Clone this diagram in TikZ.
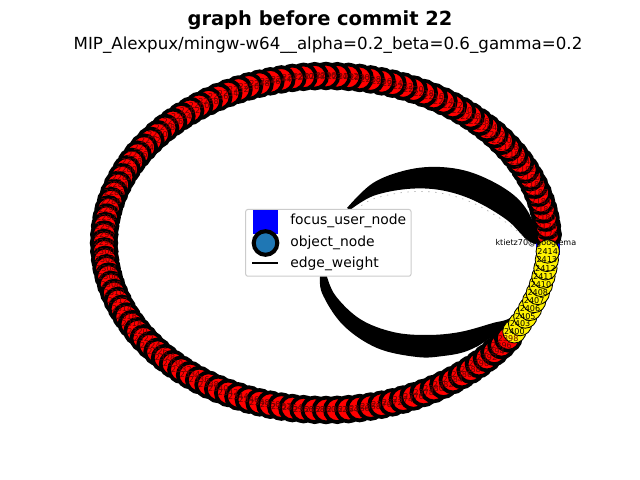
\documentclass[tikz,border=0pt]{standalone}
\usepackage{fontspec}
\setmainfont{DejaVu Sans}
\definecolor{mplblue}{HTML}{1F77B4}
\definecolor{legframe}{HTML}{CCCCCC}
\tikzset{
  x=0.72bp,y=-0.72bp,
  rednode/.style={circle,draw=black,fill=red,line width=2.7bp,minimum size=17.8bp,inner sep=0pt},
  yellownode/.style={circle,draw=black,fill=yellow,line width=0.6bp,minimum size=16.8bp,inner sep=0pt},
  focusnode/.style={rectangle,fill=blue,minimum size=17.3bp,inner sep=0pt},
  legendcircle/.style={circle,draw=black,fill=mplblue,line width=2.9bp,minimum size=17bp,inner sep=0pt},
  ringlabel/.style={font=\fontsize{5.8bp}{7bp}\selectfont,inner sep=0pt,text=black},
  redlabel/.style={font=\fontsize{5.8bp}{7bp}\selectfont,inner sep=0pt,text=black!60!red},
  legendtext/.style={font=\fontsize{10bp}{12bp}\selectfont,anchor=base west,inner sep=0pt},
  edgeband/.style={fill=black,draw=none},
}
\begin{document}
\begin{tikzpicture}
\useasboundingbox (0,0) rectangle (640,480);
\fill[white] (0,0) rectangle (640,480);
\node[font=\fontsize{14bp}{16bp}\selectfont\bfseries,anchor=base,inner sep=0pt] (title) at (320,26) {graph before commit 22};
\node[font=\fontsize{12bp}{14bp}\selectfont,anchor=base,inner sep=0pt] (subtitle) at (328,50) {MIP\_Alexpux/mingw-w64\_\_alpha=0.2\_beta=0.6\_gamma=0.2};
% edge bundles from the focus node
\path[edgeband] plot[smooth,tension=0.6] coordinates {(347,208) (373,183) (407,170) (440,167) (473,173) (507,190) (527,210) (540,240)}
  -- plot[smooth,tension=0.6] coordinates {(540,245) (527,240) (507,220) (473,200) (440,190) (407,189) (373,196) (350,210)} -- cycle;
\path[edgeband] plot[smooth,tension=0.6] coordinates {(320.5,273) (322,293) (343,325) (377,348) (417,357) (443,356) (467,351) (490,338) (530,305)}
  -- plot[smooth,tension=0.6] coordinates {(535,300) (510,318) (493,323) (460,332) (427,335) (393,332) (360,319) (335,295) (326,273)} -- cycle;
\draw[gray!60,line width=0.5bp,dash pattern=on 1bp off 4bp] plot[smooth,tension=0.6] coordinates {(356,210) (373,199) (407,192) (440,193) (473,203) (507,223) (527,240)};
% ring of object nodes
\def\ringN{124}
\node[focusnode] (focus) at (548,243) {};
\foreach \i in {1,...,112}{
  \pgfmathsetmacro{\ang}{360/\ringN*\i}
  \pgfmathsetmacro{\nx}{326+222*cos(\ang)}
  \pgfmathsetmacro{\ny}{243-167*sin(\ang)}
  \node[rednode] (r\i) at (\nx,\ny) {};
}
\foreach \i in {113,...,123}{
  \pgfmathsetmacro{\ang}{360/\ringN*\i}
  \pgfmathsetmacro{\nx}{326+222*cos(\ang)}
  \pgfmathsetmacro{\ny}{243-167*sin(\ang)}
  \node[yellownode] (y\i) at (\nx,\ny) {};
}
\foreach \i/\lab in {113/2400,114/2403,115/2405,116/2406,117/2407,118/2408,119/2410,120/2411,121/2412,122/2413,123/2414}{
  \node[ringlabel] (yl\i) at (y\i) {\lab};
}
\foreach \i in {1,...,112}{
  \pgfmathtruncatemacro{\lab}{2174+2*\i}
  \node[redlabel] (rl\i) at (r\i) {\lab};
}
\begin{scope}
\clip (80,0) rectangle (576,480);
\node[ringlabel] (focuslabel) at (focus) {ktietz70@googlemail.com};
\end{scope}
% legend
\draw[legframe,fill=white,line width=0.72bp,rounded corners=1.5bp] (245.7,209.5) rectangle (411,276.2);
\node[focusnode] (legsq) at (265.5,222) {};
\node[legendcircle] (legc) at (265.5,243) {};
\coordinate (legl) at (252,263);
\coordinate (legr) at (278,263);
\draw[black,line width=0.8bp] (legl) -- (legr);
\node[legendtext] (t1) at (290,225) {focus\_user\_node};
\node[legendtext] (t2) at (290,247) {object\_node};
\node[legendtext] (t3) at (290,268) {edge\_weight};
\end{tikzpicture}
\end{document}
